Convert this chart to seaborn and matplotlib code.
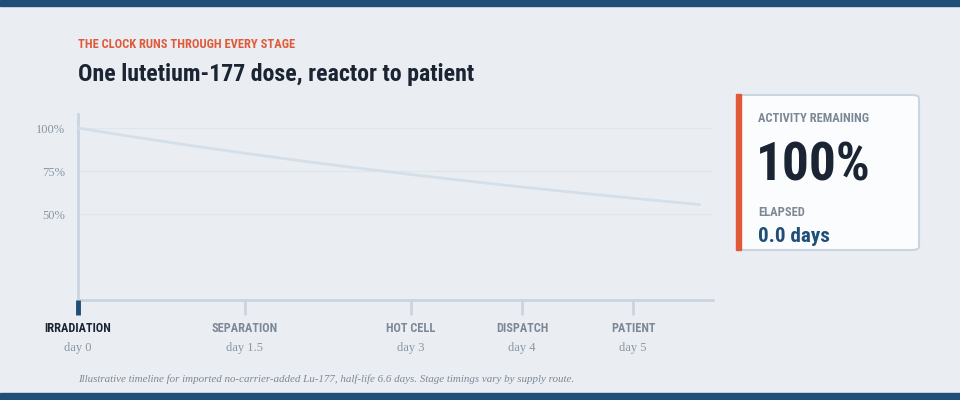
import numpy as np
import pandas as pd
import seaborn as sns
import matplotlib.pyplot as plt
import matplotlib.transforms as mtransforms
from matplotlib import font_manager
from matplotlib.patches import Rectangle, FancyBboxPatch

# Activity curve (day, % remaining)
days = [0.0, 0.5, 1.0, 1.5, 2.0, 2.5, 3.0, 3.5, 4.0, 4.5, 5.0, 5.6]
activity = [100.0, 94.9, 90.0, 85.4, 81.0, 76.9, 73.0, 69.3, 65.7, 62.4, 59.2, 55.5]

# Supply-chain stages
stage_names = ["IRRADIATION", "SEPARATION", "HOT CELL", "DISPATCH", "PATIENT"]
stage_days = [0, 1.5, 3, 4, 5]
stage_labels = ["day 0", "day 1.5", "day 3", "day 4", "day 5"]

y_ticks = [50, 75, 100]
y_tick_labels = ["50%", "75%", "100%"]

BG = "#eaeef2"
NAVY = "#1f4e79"
ORANGE = "#e05a3a"
INK = "#1b2433"
GREY = "#7d8896"
RULE = "#cbd5df"

sns.set_theme(style="white")
available = {f.name for f in font_manager.fontManager.ttflist}
COND = "Roboto"
for cand in ["Roboto Condensed", "Liberation Sans Narrow", "Open Sans Condensed",
             "Noto Sans Condensed"]:
    if cand in available:
        COND = cand
        break
SERIF = "Liberation Serif"
plt.rcParams["font.family"] = [COND, "DejaVu Sans"]
NARROW = COND != "Roboto"

fig = plt.figure(figsize=(9.6, 4.0), dpi=100, facecolor=BG)
W, H = 960.0, 400.0

def fx(px):
    return px / W

def fy(py):
    return 1 - py / H

# top and bottom bands
fig.patches.append(Rectangle((0, fy(6)), 1, 6 / H, transform=fig.transFigure,
                             color=NAVY, zorder=0))
fig.patches.append(Rectangle((0, 0), 1, 7 / H, transform=fig.transFigure,
                             color=NAVY, zorder=0))

# headings
fig.text(fx(78), fy(44), "THE CLOCK RUNS THROUGH EVERY STAGE", color=ORANGE,
         fontsize=9.0 if NARROW else 8.2, fontweight="bold", va="center", ha="left")
fig.text(fx(78), fy(74), "One lutetium-177 dose, reactor to patient", color=INK,
         fontsize=17.2 if NARROW else 15, fontweight="bold", va="center", ha="left")

# chart
ax = fig.add_axes([fx(78), 1 - 300 / H, (713 - 78) / W, (300 - 114) / H])
ax.set_facecolor(BG)
df = pd.DataFrame({"day": days, "activity": activity})
sns.lineplot(data=df, x="day", y="activity", ax=ax, color="#d5dfe9",
             linewidth=2.0, zorder=3)
ax.set_xlim(0, 5.72)
ax.set_ylim(0, 108.2)
ax.set_xlabel("")
ax.set_ylabel("")

for yv in y_ticks:
    ax.axhline(yv, color="#dfe5eb", linewidth=1, zorder=1)
ax.set_yticks(y_ticks)
ax.set_yticklabels(y_tick_labels, fontfamily=SERIF, fontsize=9, color="#8a96a3")
ax.tick_params(axis="y", left=False, length=0, pad=9)

ax.set_xticks(stage_days)
ax.set_xticklabels([])
ax.tick_params(axis="x", bottom=True, length=11, width=2, color=RULE, direction="out")
ax.xaxis.set_zorder(4)
# current stage tick in navy
xt = ax.xaxis.get_major_ticks()
xt[0].tick1line.set_markeredgecolor(NAVY)
xt[0].tick1line.set_markeredgewidth(3.5)

for side in ["top", "right"]:
    ax.spines[side].set_visible(False)
for side in ["left", "bottom"]:
    ax.spines[side].set_color(RULE)
    ax.spines[side].set_linewidth(2)
    ax.spines[side].set_zorder(2)

trans = mtransforms.blended_transform_factory(ax.transData, fig.transFigure)
for i, (name, d, lab) in enumerate(zip(stage_names, stage_days, stage_labels)):
    ax.text(d, fy(329), name, transform=trans, ha="center", va="center",
            fontsize=8.8 if NARROW else 8, fontweight="bold",
            color=INK if i == 0 else GREY)
    ax.text(d, fy(348), lab, transform=trans, ha="center", va="center",
            fontsize=9, fontfamily=SERIF, color="#8a96a3")

fig.text(fx(78), fy(379),
         "Illustrative timeline for imported no-carrier-added Lu-177, half-life 6.6 days. "
         "Stage timings vary by supply route.",
         fontfamily=SERIF, fontstyle="italic", fontsize=7.9, color=GREY,
         ha="left", va="center")

# readout card
fig.patches.append(FancyBboxPatch((fx(737), fy(250)), (919 - 737) / W, (250 - 95) / H,
                                  boxstyle="round,pad=0,rounding_size=0.008",
                                  transform=fig.transFigure, facecolor="#fbfcfd",
                                  edgecolor=RULE, linewidth=1.5, zorder=1))
fig.patches.append(Rectangle((fx(736), fy(250)), 5 / W, (250 - 94) / H,
                             transform=fig.transFigure, color=ORANGE, zorder=2))
fig.text(fx(758), fy(119), "ACTIVITY REMAINING", color=GREY,
         fontsize=9.0 if NARROW else 8.2, fontweight="bold", va="center", ha="left")
fig.text(fx(756), fy(166), f"{activity[0]:.0f}%", color=INK,
         fontsize=38.3 if NARROW else 33, fontweight="bold", va="center", ha="left")
fig.text(fx(758), fy(212), "ELAPSED", color=GREY,
         fontsize=9.0 if NARROW else 8.2, fontweight="bold", va="center", ha="left")
fig.text(fx(758), fy(236), f"{days[0]:.1f} days", color=NAVY,
         fontsize=15.2 if NARROW else 13.5, fontweight="bold", va="center", ha="left")

fig.savefig("out.png", dpi=100, facecolor=BG)
